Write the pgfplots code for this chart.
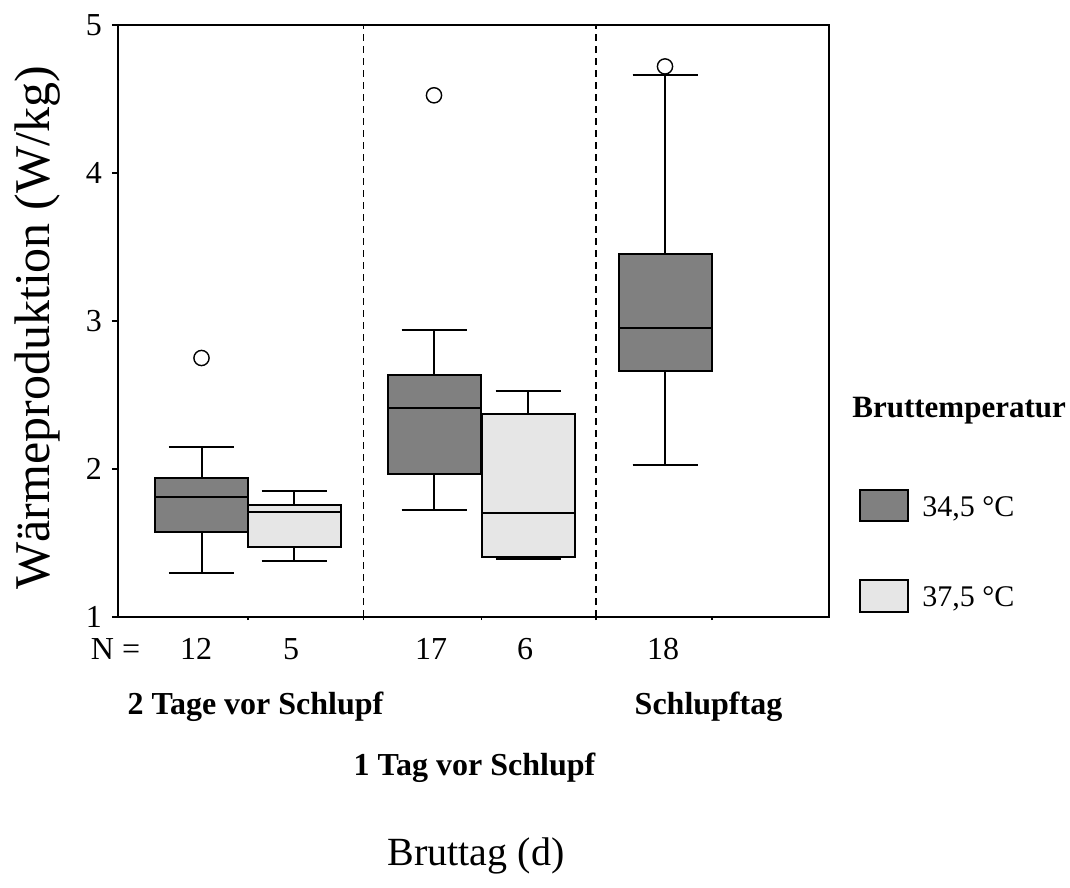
\documentclass[border=0pt]{standalone}
\usepackage{pgfplots}
\pgfplotsset{compat=1.18}
\usepgfplotslibrary{statistics}
\usepackage{fontspec}
\setmainfont{Liberation Serif}
\definecolor{boxdark}{RGB}{128,128,128}
\definecolor{boxlight}{RGB}{230,230,230}
\begin{document}
\begin{tikzpicture}
\begin{axis}[
  scale only axis, width=355.5pt, height=296pt,
  xmin=1.18, xmax=8.29, ymin=1, ymax=5,
  clip=false,
  axis line style={line width=0.9pt},
  ytick={1,2,3,4,5},
  xtick={2.477,3.633,4.813,5.96,7.12},
  xticklabels={},
  tick align=outside,
  tick pos=left,
  major tick length=3pt,
  tick style={black, line width=0.8pt},
  xtick style={/pgfplots/major tick length=1.5pt},
  yticklabel style={font=\fontsize{16}{19}\selectfont, xshift=-1.5pt},
  /pgf/number format/assume math mode=true,
  boxplot/draw direction=y,
  boxplot/box extend=0.93,
  boxplot/whisker extend=0.65,
  boxplot/every box/.style={line width=1pt},
  boxplot/every median/.style={line width=1pt},
  boxplot/every whisker/.style={line width=1pt},
]
\addplot[boxplot prepared={draw position=2.015, lower whisker=1.30, lower quartile=1.575, median=1.81, upper quartile=1.94, upper whisker=2.15},
  draw=black, fill=boxdark, line width=1pt, mark=o, mark size=3.8pt, mark options={fill=white, line width=0.7pt}] coordinates {(0,2.75)};
\addplot[boxplot prepared={draw position=2.942, lower whisker=1.38, lower quartile=1.47, median=1.707, upper quartile=1.757, upper whisker=1.85},
  draw=black, fill=boxlight, line width=1pt] coordinates {};
\addplot[boxplot prepared={draw position=4.34, lower whisker=1.725, lower quartile=1.965, median=2.41, upper quartile=2.635, upper whisker=2.94},
  draw=black, fill=boxdark, line width=1pt, mark=o, mark size=3.8pt, mark options={fill=white, line width=0.7pt}] coordinates {(0,4.525)};
\addplot[boxplot prepared={draw position=5.28, lower whisker=1.39, lower quartile=1.405, median=1.70, upper quartile=2.37, upper whisker=2.53},
  draw=black, fill=boxlight, line width=1pt] coordinates {};
\addplot[boxplot prepared={draw position=6.65, lower whisker=2.03, lower quartile=2.66, median=2.95, upper quartile=3.455, upper whisker=4.665},
  draw=black, fill=boxdark, line width=1pt, mark=o, mark size=3.8pt, mark options={fill=white, line width=0.7pt}] coordinates {(0,4.72)};
\addplot[black, line width=0.8pt, dash pattern=on 3.5pt off 2.5pt] coordinates {(3.633,1) (3.633,5)};
\addplot[black, line width=0.8pt, dash pattern=on 3.5pt off 2.5pt] coordinates {(5.96,1) (5.96,5)};
% N row
\node[anchor=base, font=\fontsize{16}{19}\selectfont] at (axis cs:1.155,0.716) {N =};
\node[anchor=base, font=\fontsize{16}{19}\selectfont] at (axis cs:1.96,0.716) {12};
\node[anchor=base, font=\fontsize{16}{19}\selectfont] at (axis cs:2.91,0.716) {5};
\node[anchor=base, font=\fontsize{16}{19}\selectfont] at (axis cs:4.31,0.716) {17};
\node[anchor=base, font=\fontsize{16}{19}\selectfont] at (axis cs:5.25,0.716) {6};
\node[anchor=base, font=\fontsize{16}{19}\selectfont] at (axis cs:6.63,0.716) {18};
% categories
\node[anchor=base, font=\bfseries\fontsize{16}{19}\selectfont] at (axis cs:2.555,0.3446) {2 Tage vor Schlupf};
\node[anchor=base, font=\bfseries\fontsize{16}{19}\selectfont] at (axis cs:7.085,0.3446) {Schlupftag};
\node[anchor=base, font=\bfseries\fontsize{16}{19}\selectfont] at (axis cs:4.745,-0.0676) {1 Tag vor Schlupf};
% axis labels
\node[anchor=base, font=\fontsize{20}{24}\selectfont] at (axis cs:4.76,-0.676) {Bruttag (d)};
\node[rotate=90, font=\fontsize{25}{30}\selectfont] at (axis cs:0.38,2.953) {Wärmeproduktion (W/kg)};
% legend
\node[anchor=base west, inner sep=0pt, font=\bfseries\fontsize{15.5}{18}\selectfont] at (axis cs:8.52,2.345) {Bruttemperatur};
\draw[fill=boxdark, line width=0.9pt] (axis cs:8.60,1.649) rectangle (axis cs:9.08,1.858);
\draw[fill=boxlight, line width=0.9pt] (axis cs:8.60,1.034) rectangle (axis cs:9.08,1.25);
\node[anchor=base west, inner sep=0pt, font=\fontsize{15}{18}\selectfont] at (axis cs:9.22,1.676) {34,5 °C};
\node[anchor=base west, inner sep=0pt, font=\fontsize{15}{18}\selectfont] at (axis cs:9.22,1.0676) {37,5 °C};
\coordinate (bl) at (rel axis cs:0,0);
\end{axis}
\pgfresetboundingbox
\path ([xshift=-59pt,yshift=-135.5pt]bl) rectangle ([xshift=476pt,yshift=308.5pt]bl);
\end{tikzpicture}
\end{document}
